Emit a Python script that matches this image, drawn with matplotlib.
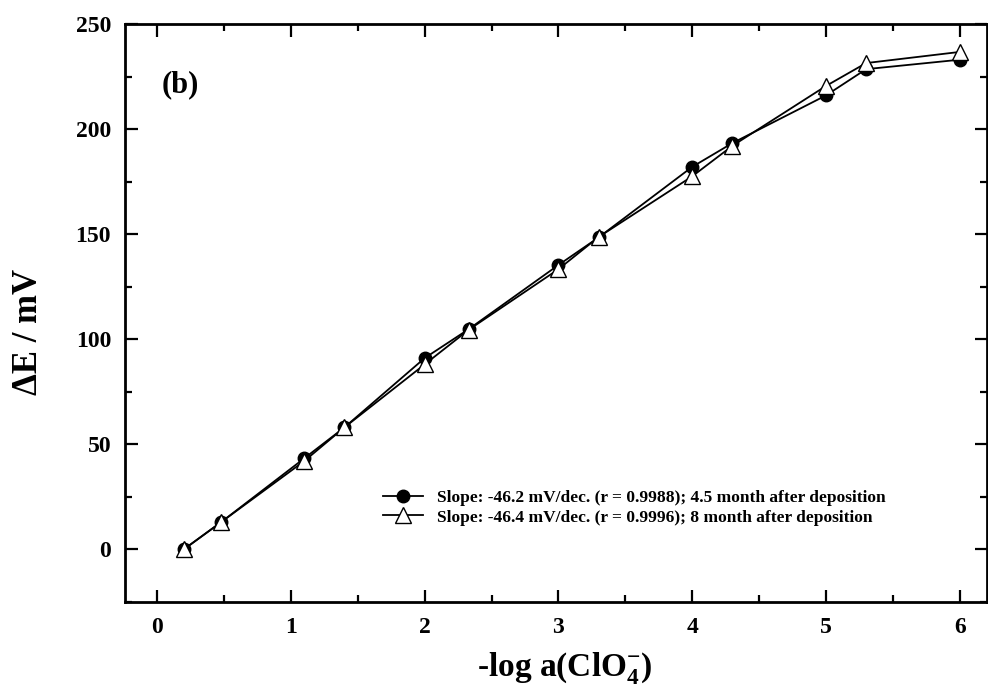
import matplotlib
matplotlib.use("Agg")
import matplotlib.pyplot as plt
from matplotlib.ticker import MultipleLocator

x_vals = [0.2, 0.48, 1.1, 1.4, 2.0, 2.33, 3.0, 3.3, 4.0, 4.3, 5.0, 5.3, 6.0]
e_45month = [0, 13, 43.3, 58, 91, 104.8, 135.3, 148.4, 182, 193.3, 216, 228.5, 233]
e_8month = [0, 13, 42, 58, 88, 104.5, 133.3, 148.6, 177.5, 192, 220.5, 231.4, 236.7]
labels = ["Slope: -46.2 mV/dec. (r = 0.9988); 4.5 month after deposition",
          "Slope: -46.4 mV/dec. (r = 0.9996); 8 month after deposition"]

plt.rcParams['font.family'] = ['Liberation Serif', 'DejaVu Serif']
plt.rcParams['font.weight'] = 'bold'
plt.rcParams['mathtext.fontset'] = 'custom'
plt.rcParams['mathtext.rm'] = 'Liberation Serif:bold'
plt.rcParams['mathtext.bf'] = 'Liberation Serif:bold'
plt.rcParams['mathtext.it'] = 'Liberation Serif:italic:bold'

fig = plt.figure(figsize=(9.88, 6.95), dpi=100)
ax = fig.add_axes([0.1265, 0.134, 0.872, 0.8315])

ax.plot(x_vals, e_45month, color='black', lw=1.3, marker='o', ms=9,
        mfc='black', mec='black', label=labels[0], zorder=3)
ax.plot(x_vals, e_8month, color='black', lw=1.3, marker='^', ms=11,
        mfc='white', mec='black', mew=1.0, label=labels[1], zorder=4)

ax.set_xlim(-0.24, 6.2)
ax.set_ylim(-25, 250)
ax.xaxis.set_major_locator(MultipleLocator(1))
ax.xaxis.set_minor_locator(MultipleLocator(0.5))
ax.yaxis.set_major_locator(MultipleLocator(50))
ax.yaxis.set_minor_locator(MultipleLocator(25))
ax.tick_params(which='both', direction='in', top=True, right=True, width=1.6)
ax.tick_params(which='major', length=9, labelsize=17)
ax.tick_params(which='minor', length=5)
ax.tick_params(axis='x', which='major', pad=11)
ax.tick_params(axis='y', which='major', pad=10)
for lab in ax.get_xticklabels() + ax.get_yticklabels():
    lab.set_fontweight('bold')
for s in ax.spines.values():
    s.set_linewidth(2.0)

ax.set_xlabel(r'-log a(ClO$_{\mathbf{4}}^{\mathbf{-}}$)', fontsize=24, fontweight='bold')
ax.set_ylabel('ΔE / mV', fontsize=25, fontweight='bold')
ax.xaxis.set_label_coords(0.51, -0.084)
ax.yaxis.set_label_coords(-0.093, 0.467)

ax.text(0.043, 0.895, '(b)', transform=ax.transAxes, fontsize=22, fontweight='bold',
        va='center', ha='left')

leg = ax.legend(loc='upper left', bbox_to_anchor=(0.285, 0.215), frameon=False,
                prop={'family': 'Liberation Serif', 'weight': 'bold', 'size': 12.5},
                handlelength=2.3, handletextpad=0.85, labelspacing=0.2,
                borderaxespad=0.3)

fig.savefig('out.png', dpi=100)
